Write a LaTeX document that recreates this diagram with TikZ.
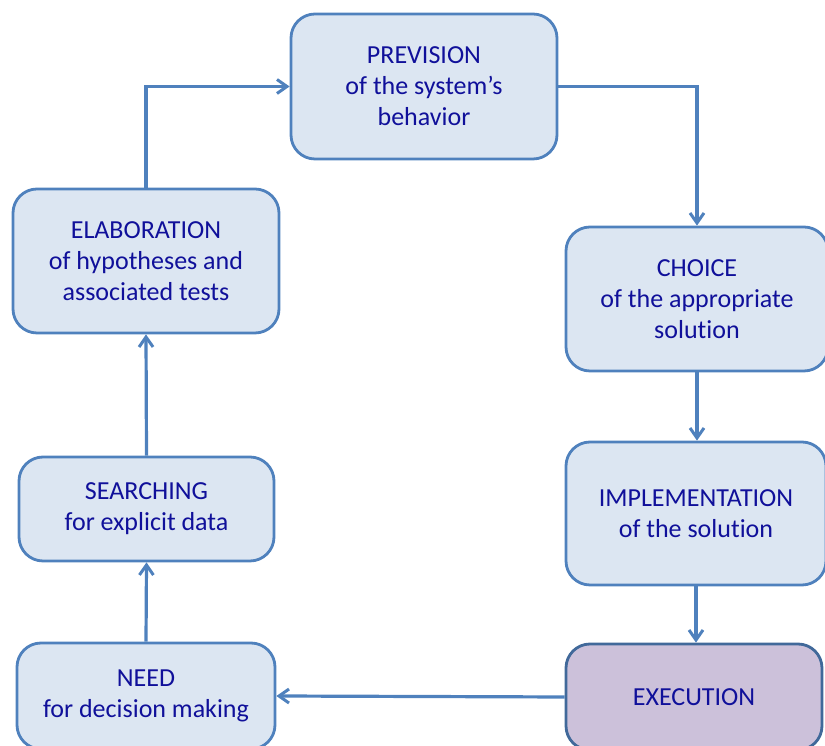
\documentclass[tikz,border=0pt]{standalone}
\usepackage{fontspec}
\setmainfont[Ligatures=NoCommon]{Carlito}
\usetikzlibrary{arrows.meta}
\definecolor{boxfill}{HTML}{DCE6F2}
\definecolor{boxline}{HTML}{4F81BD}
\definecolor{execfill}{HTML}{CCC1DA}
\definecolor{execline}{HTML}{41699A}
\definecolor{txtblue}{HTML}{10109A}
\begin{document}
\begin{tikzpicture}[x=1pt, y=1pt,
  block/.style={draw=boxline, fill=boxfill, line width=2.8pt, rounded corners=24pt,
    align=center, text=txtblue, font=\fontsize{26}{31}\selectfont, inner sep=0pt},
  flow/.style={draw=boxline, line width=3.2pt, -{Straight Barb[length=10pt, width=14pt, line width=3pt]}}]

  \useasboundingbox (0,0) rectangle (825,746);
  \clip (0,0) rectangle (825,746);

  % Left column
  \node[block, minimum width=266pt, minimum height=144pt] (elab) at (146,485) {ELABORATION\\of hypotheses and\\associated tests};
  \node[block, minimum width=255pt, minimum height=104pt] (search) at (146.5,237) {SEARCHING\\for explicit data};
  \node[block, minimum width=258pt, minimum height=106pt] (need) at (146,50) {NEED\\for decision making};

  % Top
  \node[block, minimum width=266pt, minimum height=145pt] (prev) at (424,659.5) {PREVISION\\of the system's\\behavior};

  % Right column
  \node[block, minimum width=262pt, minimum height=144pt] (choice) at (697,447) {CHOICE\\of the appropriate\\solution};
  \node[block, minimum width=260pt, minimum height=143pt] (impl) at (696,232.5) {IMPLEMENTATION\\of the solution};
  \node[block, draw=execline, fill=execfill, minimum width=256pt, minimum height=106pt] (exec) at (694,49) {EXECUTION};

  % Cycle arrows
  \draw[flow] (elab.north) |- (prev.west);
  \draw[flow] (prev.east) -| (choice.north);
  \draw[flow] (choice.south) -- (choice.south |- impl.north);
  \draw[flow] (impl.south) -- (impl.south |- exec.north);
  \draw[flow] (exec.west) -- (need.east);
  \draw[flow] (need.north) -- (search.south);
  \draw[flow] (search.north) -- (elab.south);

\end{tikzpicture}
\end{document}
